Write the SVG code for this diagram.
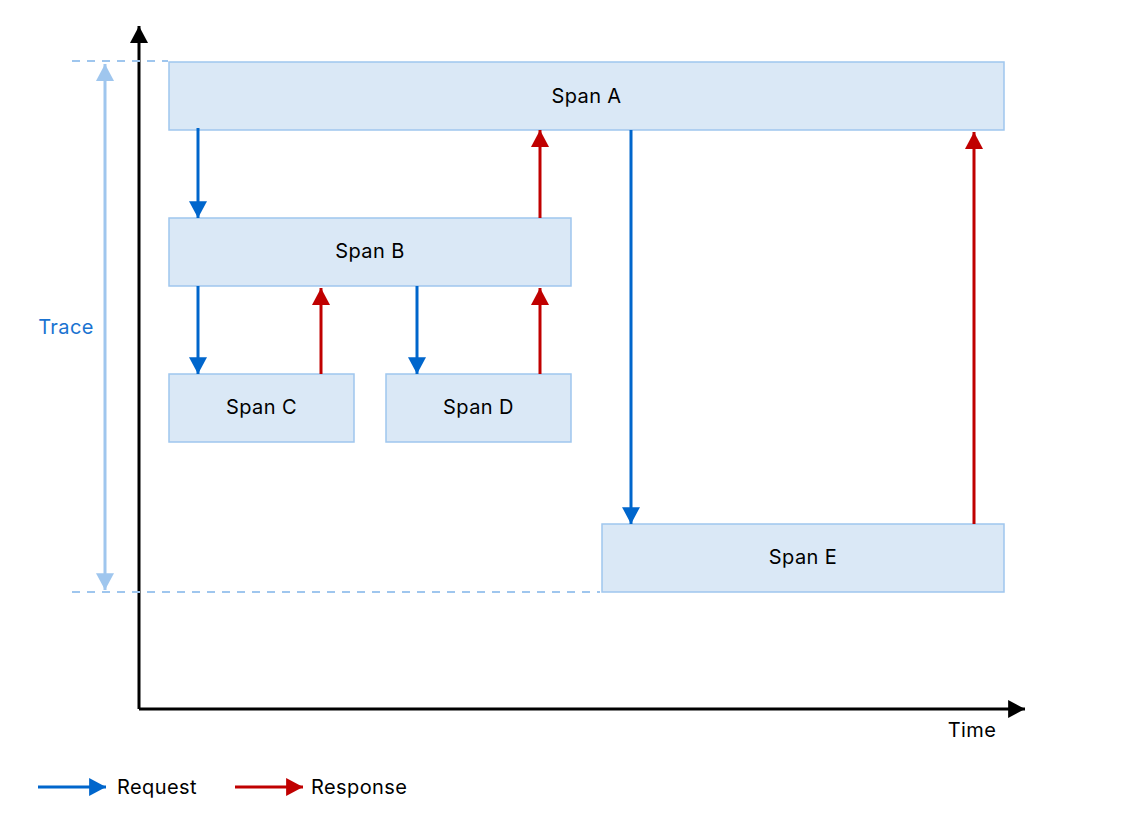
<svg xmlns="http://www.w3.org/2000/svg" width="1123" height="834" viewBox="0 0 1123 834">
<style>
.span rect{fill:#dae8f6;stroke:#9fc6ee;stroke-width:1.5}
text{font-family:Inter,"Noto Sans","Liberation Sans",sans-serif;font-size:20px;letter-spacing:0.4px;fill:#000}
.lbl{text-anchor:middle;dominant-baseline:central}
.req{stroke:#0066cc;stroke-width:3;fill:none;marker-end:url(#hb)}
.res{stroke:#c00000;stroke-width:3;fill:none;marker-end:url(#hr)}
.axis{stroke:#000;stroke-width:3;fill:none;marker-end:url(#hk)}
.dash{stroke:#9fc6ee;stroke-width:2;stroke-dasharray:8,7;fill:none}
</style>
<defs>
<marker id="hb" markerUnits="userSpaceOnUse" markerWidth="18" markerHeight="18" viewBox="0 0 16 16" refX="15" refY="8" orient="auto"><path d="M0,0 L15,8 L0,16 Z" fill="#0066cc"/></marker>
<marker id="hr" markerUnits="userSpaceOnUse" markerWidth="18" markerHeight="18" viewBox="0 0 16 16" refX="15" refY="8" orient="auto"><path d="M0,0 L15,8 L0,16 Z" fill="#c00000"/></marker>
<marker id="hk" markerUnits="userSpaceOnUse" markerWidth="18" markerHeight="18" viewBox="0 0 16 16" refX="15" refY="8" orient="auto"><path d="M0,0 L15,8 L0,16 Z" fill="#000"/></marker>
<marker id="ht" markerUnits="userSpaceOnUse" markerWidth="18" markerHeight="18" viewBox="0 0 16 16" refX="15" refY="8" orient="auto-start-reverse"><path d="M0,0 L15,8 L0,16 Z" fill="#9fc6ee"/></marker>
</defs>
<g id="axes">
<line class="axis" x1="139" y1="709" x2="139" y2="26"/>
<line class="axis" x1="139" y1="709" x2="1025" y2="709"/>
<text x="972" y="730" class="lbl">Time</text>
</g>
<g id="trace">
<line class="dash" x1="72" y1="61" x2="168" y2="61"/>
<line class="dash" x1="72" y1="592" x2="600" y2="592"/>
<line x1="105" y1="64" x2="105" y2="590" stroke="#9fc6ee" stroke-width="3" marker-start="url(#ht)" marker-end="url(#ht)"/>
<text x="66" y="327" class="lbl" style="fill:#1a73d1">Trace</text>
</g>
<g id="spanA" class="span"><rect x="169" y="62" width="835" height="68"/><text x="586.5" y="96" class="lbl">Span A</text></g>
<g id="spanB" class="span"><rect x="169" y="218" width="402" height="68"/><text x="370" y="251" class="lbl">Span B</text></g>
<g id="spanC" class="span"><rect x="169" y="374" width="185" height="68"/><text x="261.5" y="407" class="lbl">Span C</text></g>
<g id="spanD" class="span"><rect x="386" y="374" width="185" height="68"/><text x="478.5" y="407" class="lbl">Span D</text></g>
<g id="spanE" class="span"><rect x="602" y="524" width="402" height="68"/><text x="803" y="557" class="lbl">Span E</text></g>
<g id="connectors">
<line class="req" x1="198" y1="128" x2="198" y2="218"/>
<line class="res" x1="540" y1="218" x2="540" y2="130"/>
<line class="req" x1="198" y1="286" x2="198" y2="374"/>
<line class="res" x1="321" y1="374" x2="321" y2="288"/>
<line class="req" x1="417" y1="286" x2="417" y2="374"/>
<line class="res" x1="540" y1="374" x2="540" y2="288"/>
<line class="req" x1="631" y1="130" x2="631" y2="524"/>
<line class="res" x1="974" y1="524" x2="974" y2="132"/>
</g>
<g id="legend">
<line class="req" x1="38" y1="787" x2="106" y2="787"/>
<text x="117" y="787" style="dominant-baseline:central">Request</text>
<line class="res" x1="235" y1="787" x2="303" y2="787"/>
<text x="311" y="787" style="dominant-baseline:central">Response</text>
</g>
</svg>
